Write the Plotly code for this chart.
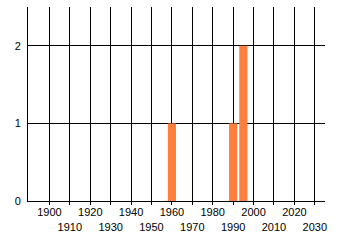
import plotly.graph_objects as go

years = [1960, 1990, 1995]
counts = [1, 1, 2]
tick_years = list(range(1900, 2031, 10))
tick_labels = [str(y) if (y // 10) % 2 == 0 else "<br>" + str(y) for y in tick_years]
y_ticks = [0, 1, 2]

fig = go.Figure()
fig.add_trace(go.Bar(x=years, y=counts, width=4, marker=dict(color="#FF7F3F", line=dict(width=0))))

fig.update_layout(
    width=340, height=245,
    margin=dict(l=28, r=15, t=7, b=44),
    paper_bgcolor="white", plot_bgcolor="white",
    showlegend=False,
    font=dict(family="Liberation Sans", size=11, color="#000000"),
    xaxis=dict(range=[1889.5, 2035], tickmode="array", tickvals=tick_years, ticktext=tick_labels,
               tickangle=0, showgrid=True, gridcolor="black", gridwidth=1,
               ticks="outside", ticklen=3, tickcolor="black", tickwidth=1,
               showline=True, linecolor="black", linewidth=1, zeroline=False,
               ticklabelstandoff=-2),
    yaxis=dict(range=[0, 2.5], tickvals=y_ticks, showgrid=True, gridcolor="black", gridwidth=1,
               showline=True, linecolor="black", linewidth=1, zeroline=False, ticks="",
               ticklabelstandoff=4),
)
fig.write_html("out.html")
